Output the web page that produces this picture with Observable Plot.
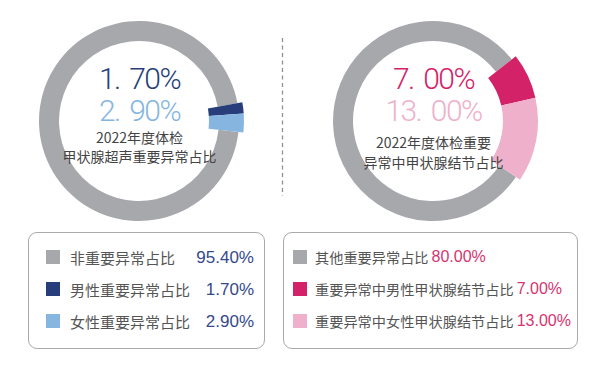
<!DOCTYPE html>
<html><head><meta charset="utf-8">
<script src="https://cdn.jsdelivr.net/npm/d3@7"></script>
<script src="https://cdn.jsdelivr.net/npm/@observablehq/plot@0.6"></script>
<style>
body{margin:0;background:#fff;}
#wrap{position:relative;width:600px;height:370px;overflow:hidden;font-family:"Noto Sans CJK SC",sans-serif;}
.donut{position:absolute;top:0;}
.donut svg{overflow:visible;}
g[font-size="30"]{letter-spacing:-1.6px;word-spacing:4px;}
#divider{position:absolute;left:281px;top:38px;}
.legend{position:absolute;top:232px;height:117px;box-sizing:border-box;border:1px solid #a9aaad;border-radius:9px;padding-top:8px;}
.row{display:flex;align-items:center;height:32px;line-height:1;white-space:nowrap;}
.sw{width:14px;height:14px;flex:none;}
.lab{color:#555;}
.val{font-family:"Liberation Sans",Arial,sans-serif;}
#legL{left:28px;width:237px;padding-left:17px;padding-right:10px;}
#legL .lab{margin-left:10px;font-size:15px;}
#legL .val{margin-left:auto;font-size:17px;color:#35498b;}
#legR{left:283px;width:295px;padding-left:9px;}
#legR .lab{margin-left:8px;font-size:14.2px;}
#legR .val{margin-left:3px;font-size:16px;color:#d6346f;}
</style></head>
<body><div id="wrap"></div>
<script>
// ---- data (legend order) ----
const leftLabels = ["非重要异常占比", "男性重要异常占比", "女性重要异常占比"];
const leftValues = [95.4, 1.7, 2.9];
const leftColors = ["#a7a8ac", "#273e7a", "#86b6e0"];
const leftCaption = ["2022年度体检", "甲状腺超声重要异常占比"];

const rightLabels = ["其他重要异常占比", "重要异常中男性甲状腺结节占比", "重要异常中女性甲状腺结节占比"];
const rightValues = [80, 7, 13];
const rightColors = ["#a7a8ac", "#d42268", "#eeb0ca"];
const rightCaption = ["2022年度体检重要", "异常中甲状腺结节占比"];

// ---- helpers ----
const CENTER_ANGLE = 88 * Math.PI / 180;
const fmtBig = v => { const [a, b] = v.toFixed(2).split("."); return `${a}. ${b}%`; };
const fmtLeg = v => v.toFixed(2) + "%";

function rowsOf(labels, values) {
  return labels.map((label, i) => ({label, value: values[i], highlight: i > 0}));
}

function donutMark(rows, fallback) {
  return (index, scales, values, dims) => {
    const cx = dims.marginLeft + (dims.width - dims.marginLeft - dims.marginRight) / 2;
    const cy = dims.marginTop + (dims.height - dims.marginTop - dims.marginBottom) / 2;
    const total = d3.sum(rows, d => d.value);
    const hi = d3.sum(rows.filter(d => d.highlight), d => d.value);
    const a0 = CENTER_ANGLE - Math.PI * hi / total;
    const ordered = rows.filter(d => d.highlight).concat(rows.filter(d => !d.highlight));
    const arcs = d3.pie().sort(null).value(d => d.value).startAngle(a0).endAngle(a0 + 2 * Math.PI)(ordered);
    arcs.sort((a, b) => d3.ascending(a.data.highlight, b.data.highlight));
    const color = (scales && scales.color) ? scales.color : fallback;
    const g = d3.create("svg:g").attr("transform", `translate(${cx},${cy})`);
    g.selectAll("path").data(arcs).join("path")
      .attr("d", a => d3.arc()
        .innerRadius(a.data.highlight ? 70 : 80)
        .outerRadius(a.data.highlight ? 105 : 100)(a))
      .attr("fill", a => color(a.data.label));
    return g.node();
  };
}

function donut(labels, values, colors, caption, capDy) {
  const rows = rowsOf(labels, values);
  const fallback = l => colors[labels.indexOf(l)];
  const hiRows = rows.filter(d => d.highlight);
  const bigDy = [-42, -10];
  return Plot.plot({
    width: 278, height: 242, margin: 0,
    color: {domain: labels, range: colors},
    marks: [
      donutMark(rows, fallback),
      ...hiRows.map((r, i) => Plot.text([r], {
        text: d => fmtBig(d.value), fill: "label", frameAnchor: "middle", dy: bigDy[i],
        fontSize: 30, fontFamily: "Roboto, Liberation Sans, sans-serif", fontWeight: 300
      })),
      ...caption.map((c, i) => Plot.text([c], {
        text: d => d, frameAnchor: "middle", dy: capDy[i], fill: "#444",
        fontSize: 14, fontFamily: "Noto Sans CJK SC, sans-serif"
      }))
    ]
  });
}

const wrap = d3.select("#wrap");
const dl = wrap.append("div").attr("class", "donut").style("left", "0px");
dl.node().appendChild(donut(leftLabels, leftValues, leftColors, leftCaption, [17, 36]));
const dr = wrap.append("div").attr("class", "donut").style("left", "294px");
dr.node().appendChild(donut(rightLabels, rightValues, rightColors, rightCaption, [22, 42]));

// dashed divider
wrap.append("svg").attr("id", "divider").attr("width", 4).attr("height", 158)
  .append("line").attr("x1", 1.5).attr("x2", 1.5).attr("y1", 0).attr("y2", 158)
  .attr("stroke", "#8f9094").attr("stroke-width", 1.3).attr("stroke-dasharray", "4,3.5");

// legends
function legend(id, labels, values, colors) {
  const box = wrap.append("div").attr("class", "legend").attr("id", id);
  labels.forEach((l, i) => {
    const row = box.append("div").attr("class", "row");
    row.append("div").attr("class", "sw").style("background", colors[i]);
    row.append("span").attr("class", "lab").text(l);
    row.append("span").attr("class", "val").text(fmtLeg(values[i]));
  });
}
legend("legL", leftLabels, leftValues, leftColors);
legend("legR", rightLabels, rightValues, rightColors);
</script></body></html>
